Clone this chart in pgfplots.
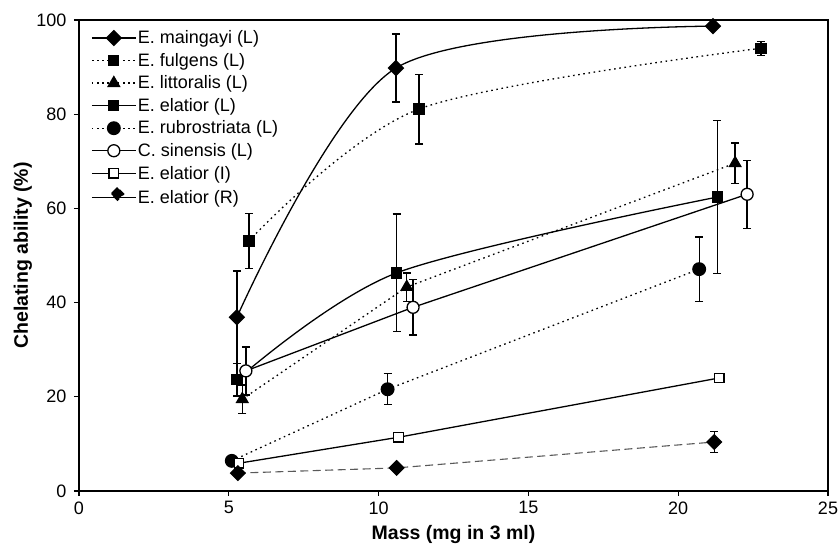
\documentclass[border=0pt]{standalone}
\usepackage{pgfplots}
\pgfplotsset{compat=1.18}
\usepackage{fontspec}
\setmainfont{Liberation Sans}
\setsansfont{Liberation Sans}

\begin{document}
\begin{tikzpicture}
\begin{axis}[
    scale only axis,
    width=749pt, height=471pt,
    xmin=0, xmax=25, ymin=0, ymax=100,
    xtick={0,5,...,25}, ytick={0,20,...,100},
    tick align=outside, xtick pos=bottom, ytick pos=left,
    major tick length=5pt,
    /pgf/number format/assume math mode=true,
    xticklabel style={font=\fontsize{18}{20}\selectfont, yshift=-2pt},
    yticklabel style={font=\fontsize{18}{20}\selectfont, xshift=-4pt},
    xlabel={\bfseries Mass (mg in 3 ml)},
    ylabel={\bfseries Chelating ability (\%)},
    label style={font=\fontsize{19.5}{22}\selectfont},
    xlabel style={at={(axis description cs:0.5,-0.104)}, anchor=base},
    ylabel style={at={(axis description cs:-0.0681,0.5)}, anchor=base, rotate=0},
    axis line style={line width=1.2pt},
    tick style={line width=1.1pt, black},
    legend style={at={(axis description cs:0.012,0.985)}, anchor=north west, draw=none, fill=none,
        font=\fontsize{18}{20}\selectfont, row sep=5pt, column sep=0pt,
        nodes={inner sep=1.5pt}},
    legend cell align=left,
    legend image code/.code={
        \draw[mark repeat=2, mark phase=2] plot coordinates {(0pt,0pt) (22pt,0pt) (44pt,0pt)};},
    every axis plot/.append style={black, line width=1.3pt},
    error bars/y dir=both, error bars/y explicit,
    error bars/error mark=-,
    error bars/error bar style={line width=1.3pt, solid, black},
    error bars/error mark options={rotate=90, mark size=4pt, line width=1.3pt, solid, black},
]
\coordinate (ll) at (rel axis cs:0,0);
\coordinate (ur) at (rel axis cs:1,1);
% E. maingayi (L)
\addplot[smooth, mark=square*, mark size=5.2pt, mark options={rotate=45, solid, fill=black}]
  coordinates {(5.27,36.9) +- (0,9.8) (10.58,89.8) +- (0,7.2) (21.16,98.7) +- (0,0)};
\addlegendentry{E. maingayi (L)}
% E. fulgens (L)
\addplot[smooth, dash pattern=on 1.6pt off 3.6pt, mark=square*, mark size=5pt, mark options={solid, fill=black}]
  coordinates {(5.67,53.1) +- (0,5.8) (11.35,81.1) +- (0,7.4) (22.76,94.0) +- (0,1.5)};
\addlegendentry{E. fulgens (L)}
% E. littoralis (L)
\addplot[dash pattern=on 1.6pt off 3.6pt, mark=triangle*, mark size=6.5pt, mark options={solid, fill=black}]
  coordinates {(5.45,19.5) +- (0,3) (10.94,43.3) +- (0,3) (21.9,69.6) +- (0,4.3)};
\addlegendentry{E. littoralis (L)}
% E. elatior (L)
\addplot[smooth, mark=square*, mark size=5pt, mark options={solid, fill=black}]
  coordinates {(5.27,23.6) +- (0,3.4) (10.6,46.3) +- (0,12.5) (21.3,62.4) +- (0,16.2)};
\addlegendentry{E. elatior (L)}
% E. rubrostriata (L)
\addplot[dash pattern=on 1.6pt off 3.6pt, mark=*, mark size=6.3pt, mark options={solid, fill=black}]
  coordinates {(5.1,6.4) +- (0,0) (10.3,21.6) +- (0,3.3) (20.7,47.1) +- (0,6.8)};
\addlegendentry{E. rubrostriata (L)}
% C. sinensis (L)
\addplot[mark=*, mark size=6pt, mark options={solid, fill=white}]
  coordinates {(5.57,25.5) +- (0,5.1) (11.15,39.0) +- (0,5.9) (22.3,63.0) +- (0,7.2)};
\addlegendentry{C. sinensis (L)}
% E. elatior (I)
\addplot[mark=square*, mark size=4.8pt, mark options={solid, fill=white}]
  coordinates {(5.34,5.9) +- (0,0) (10.66,11.4) +- (0,0) (21.37,24.0) +- (0,0)};
\addlegendentry{E. elatior (I)}
% E. elatior (R)
\addplot[draw=black!65, dash pattern=on 8pt off 4.5pt, line width=1.1pt,
    mark=square*, mark size=5.2pt, mark options={rotate=45, solid, fill=black, draw=black},
    legend image code/.code={
        \draw[black, solid, line width=1.3pt] (0pt,0pt) -- (44pt,0pt);
        \node[draw=black, fill=black, rotate=45, minimum size=9pt, inner sep=0pt] at (22pt,0pt) {};}]
  coordinates {(5.3,3.8) +- (0,0) (10.6,4.9) +- (0,0) (21.2,10.4) +- (0,2.2)};
\addlegendentry{E. elatior (R)}
\end{axis}
\pgfresetboundingbox
\path ([xshift=-79pt,yshift=-59pt]ll) rectangle ([xshift=12pt,yshift=20pt]ur);
\end{tikzpicture}
\end{document}
